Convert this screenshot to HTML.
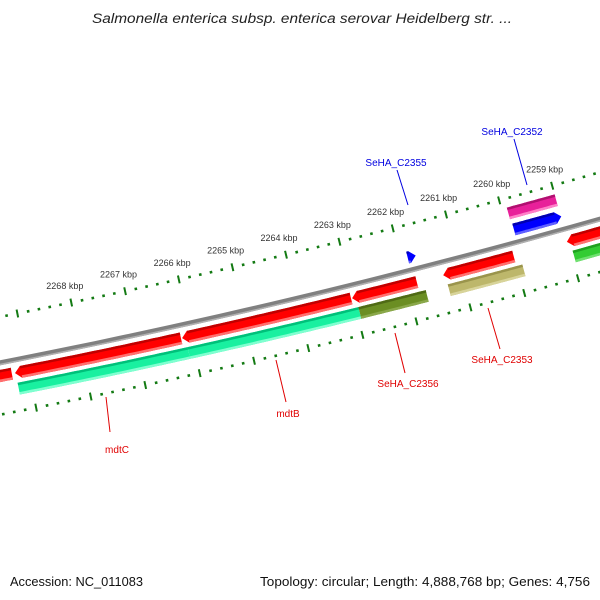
<!DOCTYPE html>
<html><head><meta charset="utf-8"><style>
html,body{margin:0;padding:0;background:#fff;}
svg{display:block;font-family:"Liberation Sans",sans-serif;}
</style></head><body>
<svg id="map" width="600" height="600" viewBox="0 0 600 600">
<text x="92" y="23" textLength="420" lengthAdjust="spacingAndGlyphs" font-size="13.5" font-style="italic" fill="#222">Salmonella enterica subsp. enterica serovar Heidelberg str. ...</text>
<g id="ticks"></g>
<g id="backbone"></g>
<g id="genes"></g>
<g id="labels"></g>
<text x="10" y="586" textLength="133" lengthAdjust="spacingAndGlyphs" font-size="12.5" fill="#111">Accession: NC_011083</text>
<text x="260" y="586" textLength="330" lengthAdjust="spacingAndGlyphs" font-size="12.5" fill="#111">Topology: circular; Length: 4,888,768 bp; Genes: 4,756</text>
</svg>
<script>
// ---- data ----
const tickStart = 2258000;
const tickEnd = 2270000;
const tickLabelsKbp = [2259,2260,2261,2262,2263,2264,2265,2266,2267,2268];
const geneStarts = [2269290,2266172,2263023,2261799,2259991,2257000];
const geneEnds   = [2270600,2269252,2266172,2263023,2261328,2259017];
const cogStarts  = [2266110,2262950,2261700,2259900,2257000];
const cogEnds    = [2269240,2266110,2262950,2261290,2258960];
const cogColors  = ["#19f0a0","#19f0a0","#6b8e23","#bdb76b","#33cc33"];
const fwdStarts  = [2258990,2261720];
const fwdEnds    = [2259880,2261870];
const fwd2Starts = [2259000];
const fwd2Ends   = [2259900];
const labelNames = ["mdtC","mdtB","SeHA_C2356","SeHA_C2353","SeHA_C2355","SeHA_C2352"];

// ---- geometry ----
const CX=-1398, CY=-6796, RT=7249, RB=7294;
const NS='http://www.w3.org/2000/svg';
function ang(bp){return 0.2041+(2268000-bp)*7.587e-6;}
function pt(bp,r){const a=ang(bp);return [CX+r*Math.sin(a),CY+r*Math.cos(a)];}
function mk(tag,attrs,parent){const e=document.createElementNS(NS,tag);for(const k in attrs)e.setAttribute(k,attrs[k]);parent.appendChild(e);return e;}
function arcPts(a,b,r){const n=30,out=[];for(let i=0;i<=n;i++){out.push(pt(a+(b-a)*i/n,r));}return out;}
function poly(p){return p.map(q=>q[0].toFixed(1)+','+q[1].toFixed(1)).join(' ');}
const BPPX=18.4;

function band(parent,s,e,r,t,color,dark,light,dir,name){
  const g=mk('g',{},parent);
  
  
  const head=6*BPPX;
  let bs=s,be=e,p=[];
  if(dir<0){
    be=Math.max(s,e-head);
    p=p.concat(arcPts(bs,be,r-t/2)); p.push(pt(e,r)); p=p.concat(arcPts(be,bs,r+t/2));
  } else if(dir>0){
    bs=Math.min(e,s+head);
    p=p.concat(arcPts(be,bs,r-t/2)); p.push(pt(s,r)); p=p.concat(arcPts(bs,be,r+t/2));
  } else {
    p=p.concat(arcPts(s,e,r-t/2)); p=p.concat(arcPts(e,s,r+t/2));
  }
  const m=mk('polygon',{points:poly(p),fill:color},g);
  
  
  if(be-bs>30){
    const top=mk('polygon',{points:poly(arcPts(bs,be,r-t/2).concat(arcPts(be,bs,r-t/2+2.5))),fill:dark},g);
    
    
    const bot=mk('polygon',{points:poly(arcPts(bs,be,r+t/2-2.5).concat(arcPts(be,bs,r+t/2))),fill:light},g);
    
    
  }
}

// ticks
const tg=document.getElementById('ticks');
[RT,RB+51].forEach((R,ri)=>{
  for(let bp=tickStart;bp<=tickEnd;bp+=200){
    const major=bp%1000===0;
    const h=major?4:1.3;
    const a=pt(bp,R-h),b=pt(bp,R+h);
    const l=mk('line',{x1:a[0],y1:a[1],x2:b[0],y2:b[1],stroke:'#137a13','stroke-width':major?2:2.6},tg);
    
    
  }
});
tickLabelsKbp.forEach(k=>{
  const p=pt(k*1000,RT-17);
  const t=mk('text',{x:p[0]-3,y:p[1]+3,'font-size':9,fill:'#333','text-anchor':'middle'},tg);
  
  
  t.textContent=k+' kbp';
});

// backbone
const bg=document.getElementById('backbone');
const bb=mk('polygon',{points:poly(arcPts(2257000,2271000,RB-2.5).concat(arcPts(2271000,2257000,RB+2.5))),fill:'#808080'},bg);


const bb2=mk('polygon',{points:poly(arcPts(2257000,2271000,RB+1).concat(arcPts(2271000,2257000,RB+2.5))),fill:'#b0b0b0'},bg);



// genes
const gg=document.getElementById('genes');
for(let i=0;i<geneStarts.length;i++){
  band(gg,geneStarts[i]+20,geneEnds[i],RB+13,12,'#ff0000','#c00000','#ff7070',-1,'reverse-gene');
}
for(let i=0;i<cogStarts.length;i++){
  const c=cogColors[i];
  const dark=c==='#19f0a0'?'#00c07a':c==='#6b8e23'?'#4f6a15':c==='#bdb76b'?'#9a944c':'#20a020';
  const light=c==='#19f0a0'?'#80ffd0':c==='#6b8e23'?'#8aa84a':c==='#bdb76b'?'#d8d49a':'#70e070';
  band(gg,cogStarts[i],cogEnds[i],RB+29,12,c,dark,light,0,'cog-feature');
}
for(let i=0;i<fwdStarts.length;i++){
  band(gg,fwdStarts[i],fwdEnds[i],RB-13,12,'#0000ff','#0000b0','#6060ff',1,'forward-gene');
}
for(let i=0;i<fwd2Starts.length;i++){
  band(gg,fwd2Starts[i],fwd2Ends[i],RB-30,12,'#e8209a','#b01070','#ff80c8',0,'forward-feature');
}

// labels
const lg=document.getElementById('labels');
const labs=[
 {n:labelNames[0],x:117,y:453,c:'#e00000',l:[106,397,110,432]},
 {n:labelNames[1],x:288,y:417,c:'#e00000',l:[276,360,286,402]},
 {n:labelNames[2],x:408,y:387,c:'#e00000',l:[395,333,405,373]},
 {n:labelNames[3],x:502,y:363,c:'#e00000',l:[488,308,500,349]},
 {n:labelNames[4],x:396,y:166,c:'#0000e0',l:[397,170,408,205]},
 {n:labelNames[5],x:512,y:135,c:'#0000e0',l:[514,139,527,185]}
];
labs.forEach(o=>{
  const ln=mk('line',{x1:o.l[0],y1:o.l[1],x2:o.l[2],y2:o.l[3],stroke:o.c,'stroke-width':1},lg);
  
  
  const t=mk('text',{x:o.x,y:o.y,'font-size':10,fill:o.c,'text-anchor':'middle'},lg);
  
  
  t.textContent=o.n;
});
</script>
</body></html>
